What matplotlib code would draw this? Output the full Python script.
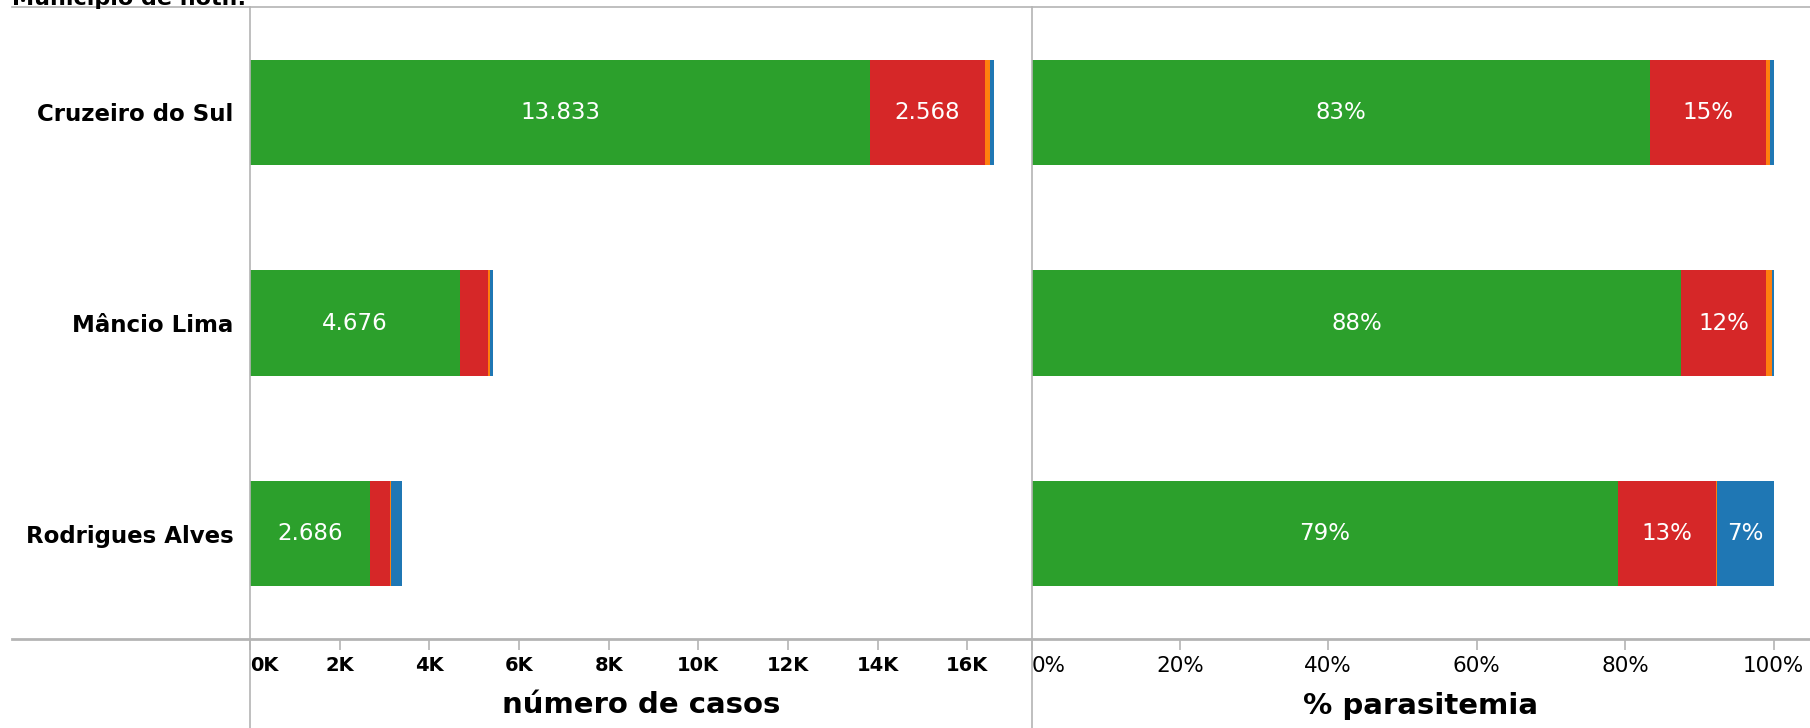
import matplotlib
matplotlib.use("Agg")
import matplotlib.pyplot as plt
from matplotlib.lines import Line2D

# data
municipios = ["Cruzeiro do Sul", "Mâncio Lima", "Rodrigues Alves"]
segment_colors = ["#2ca02c", "#d62728", "#ff7f0e", "#1f77b4"]

# number of cases per segment (green, red, orange, blue)
casos_green = [13833, 4676, 2686]
casos_red = [2568, 625, 446]
casos_orange = [100, 45, 6]
casos_blue = [106, 67, 262]

# % parasitemia per segment
pct_green = [83.3, 87.6, 79.0]
pct_red = [15.66, 11.4, 13.3]
pct_orange = [0.54, 0.8, 0.1]
pct_blue = [0.5, 0.2, 7.6]
pct_labels_green = ["83%", "88%", "79%"]
pct_labels_red = ["15%", "12%", "13%"]
pct_labels_blue = ["", "", "7%"]

casos_ticks = [0, 2000, 4000, 6000, 8000, 10000, 12000, 14000, 16000]
pct_ticks = [0, 20, 40, 60, 80, 100]

W, H = 1810, 728
fig = plt.figure(figsize=(W / 100, H / 100), dpi=100)
plt.rcParams['font.family'] = ['DejaVu Sans']

gray = "#b4b4b4"
y_top = 7
y_axis = 639
x_left = 250
x_mid = 1031.5

def fx(px):
    return px / W

def fy(py):
    return 1 - py / H

ax1 = fig.add_axes([fx(x_left), fy(y_axis), fx(x_mid - x_left), (y_axis - y_top) / H])
ax2 = fig.add_axes([fx(x_mid), fy(y_axis), fx(W - x_mid), (y_axis - y_top) / H])

ypos = list(range(len(municipios)))
bar_h = 0.5


def stacked(ax, series, labels):
    left = [0] * len(municipios)
    for vals, col, labs in zip(series, segment_colors, labels):
        ax.barh(ypos, vals, left=left, height=bar_h, color=col, linewidth=0)
        if labs is not None:
            for i, (v, l) in enumerate(zip(vals, labs)):
                if l:
                    ax.text(left[i] + v / 2, ypos[i], l, ha='center', va='center',
                            color='white', fontsize=16.5)
        left = [a + b for a, b in zip(left, vals)]


def fmt_num(v):
    return f"{v:,}".replace(",", ".")


# left panel: number of cases
lab_green = [fmt_num(v) for v in casos_green]
lab_red = [fmt_num(v) if v > 1000 else "" for v in casos_red]
stacked(ax1, [casos_green, casos_red, casos_orange, casos_blue],
        [lab_green, lab_red, None, None])
ax1.set_xlim(0, 17433)
ax1.set_xticks(casos_ticks)
ax1.set_xticklabels([f"{t // 1000}K" for t in casos_ticks], fontsize=14, fontweight='bold')
ax1.get_xticklabels()[0].set_horizontalalignment('left')
ax1.set_yticks(ypos)
ax1.set_yticklabels(municipios, fontsize=16.5, fontweight='bold')
ax1.tick_params(axis='y', length=0, pad=12)

# right panel: % parasitemia
stacked(ax2, [pct_green, pct_red, pct_orange, pct_blue],
        [pct_labels_green, pct_labels_red, None, pct_labels_blue])
ax2.set_xlim(0, (W - x_mid) / 7.42)
ax2.set_xticks(pct_ticks)
ax2.set_xticklabels([f"{t}%" for t in pct_ticks], fontsize=15.5)
ax2.get_xticklabels()[0].set_horizontalalignment('left')
ax2.set_yticks([])

for ax in (ax1, ax2):
    ax.set_ylim(len(municipios) - 0.5, -0.5)
    for s in ax.spines.values():
        s.set_visible(False)
    ax.tick_params(axis='x', length=8, width=1.2, color=gray, pad=4)

ax1.set_xlabel("número de casos", fontsize=21, fontweight='bold', labelpad=12)
ax2.set_xlabel("% parasitemia", fontsize=21, fontweight='bold', labelpad=12)

# frame lines (header line, bottom axis line, panel separators)
fig.add_artist(Line2D([fx(12), 1], [fy(y_top), fy(y_top)], color=gray, lw=1.2))
fig.add_artist(Line2D([fx(12), 1], [fy(y_axis), fy(y_axis)], color=gray, lw=2))
for xp in (x_left, x_mid):
    fig.add_artist(Line2D([fx(xp), fx(xp)], [fy(y_top), 0], color=gray, lw=1.2))

# header is cut at the top edge, as in the source image
fig.text(fx(12), fy(5), "Município de notif.", fontsize=16, fontweight='bold',
         ha='left', va='baseline')

fig.savefig("out.png", dpi=100)
